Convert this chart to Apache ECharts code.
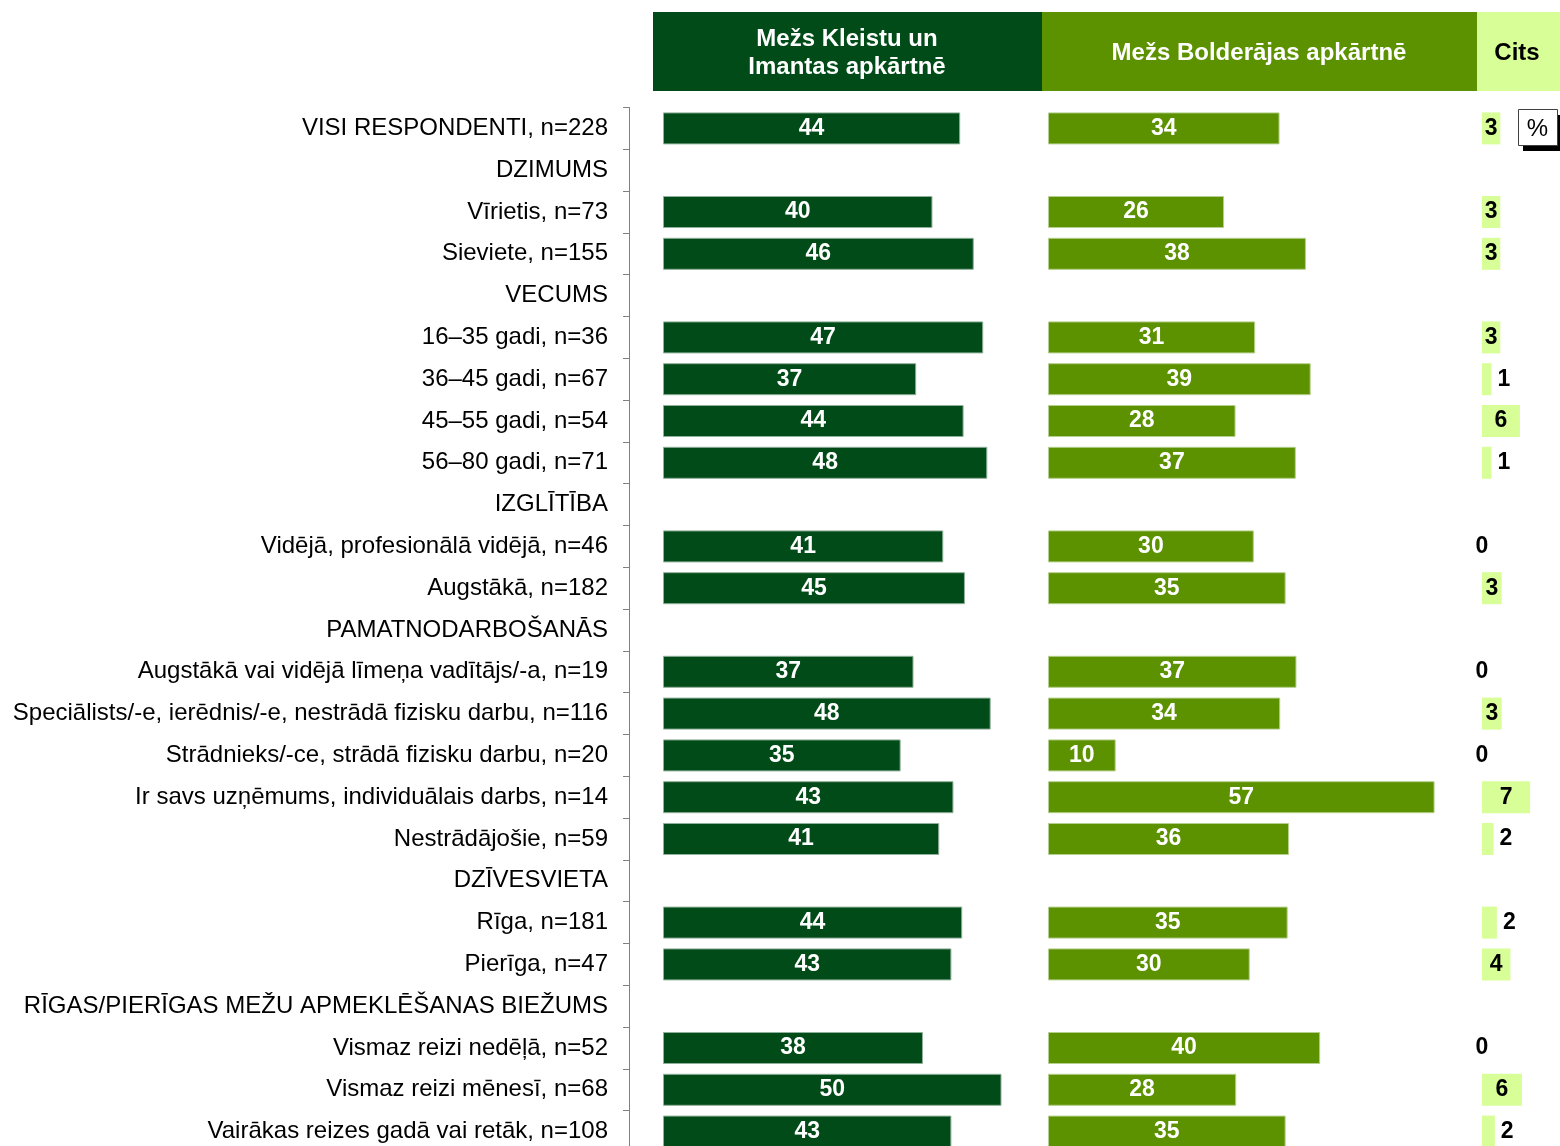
<!DOCTYPE html>
<html>
<head>
<meta charset="utf-8">
<script src="https://cdn.jsdelivr.net/npm/echarts@6/dist/echarts.min.js"></script>
<style>
  html, body { margin: 0; padding: 0; background: #fff; }
  #chart { width: 1560px; height: 1146px; }
</style>
</head>
<body>
<div id="chart"></div>
<script>
const categories = [
  'VISI RESPONDENTI, n=228',
  'DZIMUMS',
  'Vīrietis, n=73',
  'Sieviete, n=155',
  'VECUMS',
  '16–35 gadi, n=36',
  '36–45 gadi, n=67',
  '45–55 gadi, n=54',
  '56–80 gadi, n=71',
  'IZGLĪTĪBA',
  'Vidējā, profesionālā vidējā, n=46',
  'Augstākā, n=182',
  'PAMATNODARBOŠANĀS',
  'Augstākā vai vidējā līmeņa vadītājs/-a, n=19',
  'Speciālists/-e, ierēdnis/-e, nestrādā fizisku darbu, n=116',
  'Strādnieks/-ce, strādā fizisku darbu, n=20',
  'Ir savs uzņēmums, individuālais darbs, n=14',
  'Nestrādājošie, n=59',
  'DZĪVESVIETA',
  'Rīga, n=181',
  'Pierīga, n=47',
  'RĪGAS/PIERĪGAS MEŽU APMEKLĒŠANAS BIEŽUMS',
  'Vismaz reizi nedēļā, n=52',
  'Vismaz reizi mēnesī, n=68',
  'Vairākas reizes gadā vai retāk, n=108'
];

const seriesNames = ['Mežs Kleistu un\nImantas apkārtnē', 'Mežs Bolderājas apkārtnē', 'Cits'];

const kleistu = [43.9, null, 39.8, 45.9, null, 47.3, 37.4, 44.4, 47.9, null, 41.4, 44.6, null, 37.0, 48.4, 35.1, 42.9, 40.8, null, 44.2, 42.6, null, 38.4, 50.0, 42.6];
const bolderaja = [34.2, null, 26.0, 38.1, null, 30.6, 38.8, 27.7, 36.6, null, 30.4, 35.1, null, 36.7, 34.3, 10.0, 57.1, 35.6, null, 35.4, 29.8, null, 40.2, 27.8, 35.1];
const cits = [2.7, null, 2.7, 2.7, null, 2.7, 1.4, 5.6, 1.4, null, 0, 2.9, null, 0, 2.9, 0, 7.1, 1.7, null, 2.2, 4.2, null, 0, 5.9, 1.9];

const colors = ['#004b17', '#5c9100', '#d7fe97'];
const edgeColors = ['#8fb09a', '#b5cf8c', '#eefdd6'];
const FONT = "'Liberation Sans', Arial, sans-serif";

// px per percentage point, the same in all three panels
const unit = 6.77;
const plotTop = 107.5;
const rowH = 41.8;
const plotH = rowH * categories.length;
const axisX = 629;                     // left category axis line
const panelLeft = [663, 1048, 1482];   // where value 0 sits in each panel
const panelMax = [50, 60, 10];

const chart = echarts.init(document.getElementById('chart'));

// first panel starts at the axis line, its value 0 is pushed right by a negative min
const gridLeft = [axisX, panelLeft[1], panelLeft[2]];
const panelMin = [-(panelLeft[0] - axisX) / unit, 0, 0];

const grids = gridLeft.map((l, i) => ({
  left: l, top: plotTop, width: (panelMax[i] - panelMin[i]) * unit, height: plotH,
  outerBoundsMode: 'none', containLabel: false
}));

const xAxes = gridLeft.map((l, i) => ({
  type: 'value', gridIndex: i, min: panelMin[i], max: panelMax[i], show: false
}));

const yAxes = gridLeft.map((l, i) => ({
  type: 'category',
  gridIndex: i,
  data: categories,
  inverse: true,
  show: i === 0,
  axisLine: { show: true, onZero: false, lineStyle: { color: '#808080', width: 1 } },
  axisTick: { show: true, length: 6, lineStyle: { color: '#808080' } },
  axisLabel: { margin: 21, color: '#000', fontSize: 24, fontFamily: FONT, interval: 0 },
  splitLine: { show: false }
}));

const roundLabel = p => p.value == null ? '' : String(Math.round(p.value));

function citsData() {
  return cits.map(v => {
    if (v == null) return null;
    const outside = v > 0 && v < 2.5;
    return {
      value: v,
      label: { position: outside ? 'right' : 'inside', distance: 6 }
    };
  });
}

const valueLabel = color => ({
  show: true, position: 'inside', color: color, fontWeight: 'bold', fontSize: 23, fontFamily: FONT, formatter: roundLabel
});

chart.setOption({
  animation: false,
  grid: grids,
  xAxis: xAxes,
  yAxis: yAxes,
  series: [
    {
      name: seriesNames[0], type: 'bar', xAxisIndex: 0, yAxisIndex: 0,
      data: kleistu, barWidth: 32,
      itemStyle: { color: colors[0], borderColor: edgeColors[0], borderWidth: 1 },
      label: valueLabel('#fff')
    },
    {
      name: seriesNames[1], type: 'bar', xAxisIndex: 1, yAxisIndex: 1,
      data: bolderaja, barWidth: 32,
      itemStyle: { color: colors[1], borderColor: edgeColors[1], borderWidth: 1 },
      label: valueLabel('#fff')
    },
    {
      name: seriesNames[2], type: 'bar', xAxisIndex: 2, yAxisIndex: 2,
      data: citsData(), barWidth: 32,
      itemStyle: { color: colors[2] },
      label: valueLabel('#000')
    }
  ],
  graphic: [
    // column headers
    { type: 'rect', left: 653, top: 12, shape: { width: 389, height: 79 }, style: { fill: colors[0] } },
    { type: 'rect', left: 1042, top: 12, shape: { width: 435, height: 79 }, style: { fill: colors[1] } },
    { type: 'rect', left: 1477, top: 12, shape: { width: 83, height: 79 }, style: { fill: colors[2] } },
    { type: 'text', x: 847, y: 53, style: { text: seriesNames[0], fill: '#fff', font: 'bold 24px ' + FONT, align: 'center', verticalAlign: 'middle', lineHeight: 28 } },
    { type: 'text', x: 1259, y: 53, style: { text: seriesNames[1], fill: '#fff', font: 'bold 24px ' + FONT, align: 'center', verticalAlign: 'middle' } },
    { type: 'text', x: 1517, y: 53, style: { text: seriesNames[2], fill: '#000', font: 'bold 24px ' + FONT, align: 'center', verticalAlign: 'middle' } },
    // percent box with shadow
    { type: 'rect', left: 1523, top: 115, shape: { width: 39, height: 36 }, style: { fill: '#000' } },
    { type: 'rect', left: 1518, top: 109, shape: { width: 39, height: 36 }, style: { fill: '#fff', stroke: '#404040', lineWidth: 1 } },
    { type: 'text', x: 1537.5, y: 129, style: { text: '%', fill: '#000', font: '24px ' + FONT, align: 'center', verticalAlign: 'middle' } }
  ]
});
</script>
</body>
</html>
